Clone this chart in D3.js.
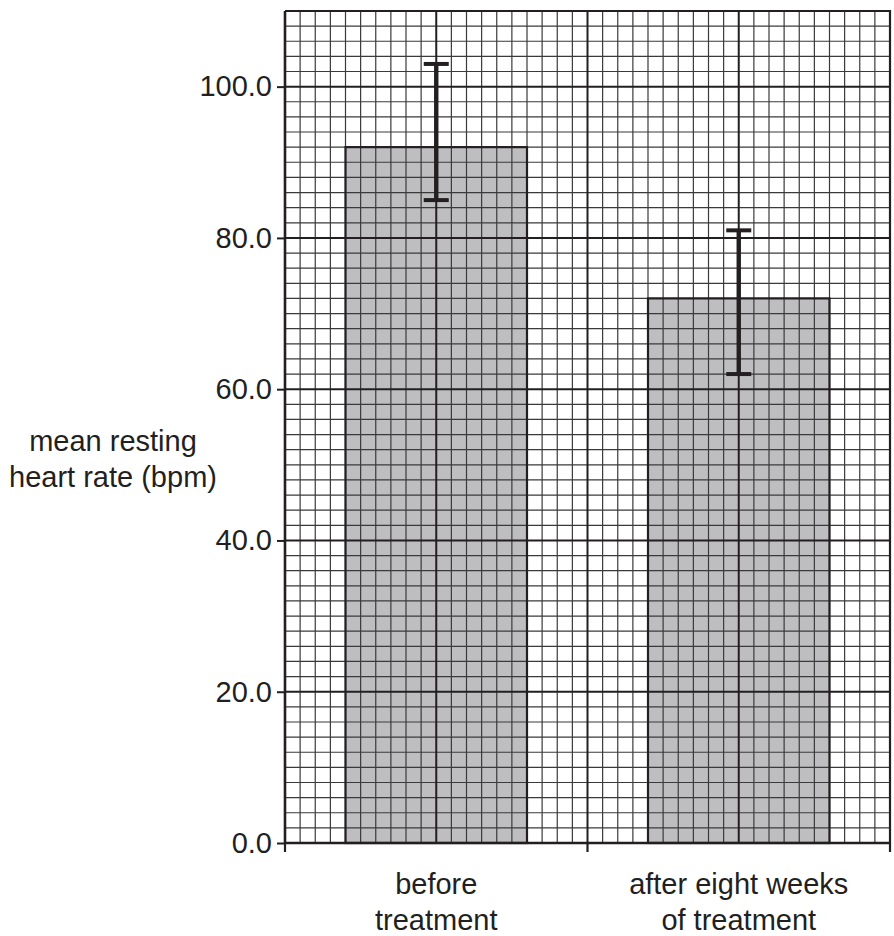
<!DOCTYPE html>
<html>
<head>
<meta charset="utf-8">
<script src="https://cdn.jsdelivr.net/npm/d3@7"></script>
<style>
  html, body { margin: 0; padding: 0; background: #fff; }
  svg { display: block; font-family: "Liberation Sans", Arial, sans-serif; }
</style>
</head>
<body>
<div id="chart"></div>
<script>
// data
const categories = ['before treatment', 'after eight weeks of treatment'];
const categoryLines = [['before', 'treatment'], ['after eight weeks', 'of treatment']];
const means = [92, 72];
const upper = [103, 81];
const lower = [85, 62];
const yTicks = [0, 20, 40, 60, 80, 100];
const yLabelLines = ['mean resting', 'heart rate (bpm)'];

const width = 894;
const height = 936;
const margin = { top: 11, right: 4, bottom: 93, left: 285 };
const innerW = width - margin.left - margin.right; // 605
const innerH = height - margin.top - margin.bottom; // 832
const fontSize = 29;

const svg = d3.select('#chart')
  .append('svg')
  .attr('width', width)
  .attr('height', height);

const g = svg.append('g')
  .attr('transform', `translate(${margin.left},${margin.top})`);

// scales
const x = d3.scaleBand()
  .domain(categories)
  .range([0, innerW])
  .padding(0);

const y = d3.scaleLinear()
  .domain([0, 110])
  .range([innerH, 0]);

// grid paper: 40 columns, 55 rows (one cell = 2 bpm)
const gridX = d3.scaleLinear().domain([0, 40]).range([0, innerW]);

const barW = x.bandwidth() * 0.6;

// bars first, grid drawn over them
g.selectAll('rect.bar')
  .data(categories)
  .enter()
  .append('rect')
  .attr('class', 'bar')
  .attr('x', d => x(d) + (x.bandwidth() - barW) / 2)
  .attr('y', (d, i) => y(means[i]))
  .attr('width', barW)
  .attr('height', (d, i) => innerH - y(means[i]))
  .attr('fill', '#bebec1');

// minor grid
g.append('g')
  .selectAll('line')
  .data(d3.range(0, 41).filter(i => i % 10 !== 0))
  .enter()
  .append('line')
  .attr('x1', d => gridX(d)).attr('x2', d => gridX(d))
  .attr('y1', 0).attr('y2', innerH)
  .attr('stroke', '#3a3a3a')
  .attr('stroke-width', 1.2);

g.append('g')
  .selectAll('line')
  .data(d3.range(0, 111, 2).filter(v => v % 20 !== 0))
  .enter()
  .append('line')
  .attr('x1', 0).attr('x2', innerW)
  .attr('y1', d => y(d)).attr('y2', d => y(d))
  .attr('stroke', '#3a3a3a')
  .attr('stroke-width', 1.2);

// major grid
g.append('g')
  .selectAll('line')
  .data([10, 20, 30])
  .enter()
  .append('line')
  .attr('x1', d => gridX(d)).attr('x2', d => gridX(d))
  .attr('y1', 0).attr('y2', innerH)
  .attr('stroke', '#231f20')
  .attr('stroke-width', 2);

g.append('g')
  .selectAll('line')
  .data(yTicks.filter(v => v > 0))
  .enter()
  .append('line')
  .attr('x1', 0).attr('x2', innerW)
  .attr('y1', d => y(d)).attr('y2', d => y(d))
  .attr('stroke', '#231f20')
  .attr('stroke-width', 2);

// bar outlines
g.selectAll('rect.outline')
  .data(categories)
  .enter()
  .append('rect')
  .attr('class', 'outline')
  .attr('x', d => x(d) + (x.bandwidth() - barW) / 2)
  .attr('y', (d, i) => y(means[i]))
  .attr('width', barW)
  .attr('height', (d, i) => innerH - y(means[i]))
  .attr('fill', 'none')
  .attr('stroke', '#231f20')
  .attr('stroke-width', 2.2);

// frame: top and right edges
g.append('path')
  .attr('d', `M0,0H${innerW}V${innerH}`)
  .attr('fill', 'none')
  .attr('stroke', '#231f20')
  .attr('stroke-width', 2.2);

// error bars
const capW = 25;
const err = g.append('g');
categories.forEach((c, i) => {
  const cx = x(c) + x.bandwidth() / 2;
  err.append('line')
    .attr('x1', cx).attr('x2', cx)
    .attr('y1', y(upper[i])).attr('y2', y(lower[i]))
    .attr('stroke', '#231f20').attr('stroke-width', 4.4);
  [upper[i], lower[i]].forEach(v => {
    err.append('line')
      .attr('x1', cx - capW / 2).attr('x2', cx + capW / 2)
      .attr('y1', y(v)).attr('y2', y(v))
      .attr('stroke', '#231f20').attr('stroke-width', 4);
  });
});

// y axis
const yAxis = g.append('g')
  .call(d3.axisLeft(y).tickValues(yTicks).tickFormat(d3.format('.1f')).tickSize(8).tickPadding(5));
yAxis.select('.domain').attr('stroke', '#231f20').attr('stroke-width', 2.6)
  .attr('d', `M0,0V${innerH}`);
yAxis.selectAll('.tick line').attr('stroke', '#231f20').attr('stroke-width', 2);
yAxis.selectAll('.tick text')
  .attr('font-size', fontSize)
  .attr('font-family', '"Liberation Sans", Arial, sans-serif')
  .attr('fill', '#231f20');

// x axis: ticks sit on category boundaries
const xEdges = [...categories.map(c => x(c)), innerW];
const xAxis = g.append('g').attr('transform', `translate(0,${innerH})`);
xAxis.append('line')
  .attr('x1', 0).attr('x2', innerW)
  .attr('stroke', '#231f20').attr('stroke-width', 2.6);
xAxis.selectAll('line.tick')
  .data(xEdges)
  .enter()
  .append('line')
  .attr('class', 'tick')
  .attr('x1', d => d).attr('x2', d => d)
  .attr('y1', 0).attr('y2', 9)
  .attr('stroke', '#231f20').attr('stroke-width', 2.2);

xAxis.selectAll('text')
  .data(categories)
  .enter()
  .append('text')
  .attr('text-anchor', 'middle')
  .attr('font-size', fontSize)
  .attr('fill', '#231f20')
  .each(function (d, i) {
    const t = d3.select(this);
    categoryLines[i].forEach((line, k) => {
      t.append('tspan')
        .attr('x', x(d) + x.bandwidth() / 2)
        .attr('y', 51 + k * 36)
        .text(line);
    });
  });

// y label
const yl = svg.append('text')
  .attr('text-anchor', 'middle')
  .attr('font-size', fontSize)
  .attr('fill', '#231f20');
yLabelLines.forEach((line, k) => {
  yl.append('tspan')
    .attr('x', 113)
    .attr('y', 451 + k * 36)
    .text(line);
});
</script>
</body>
</html>
